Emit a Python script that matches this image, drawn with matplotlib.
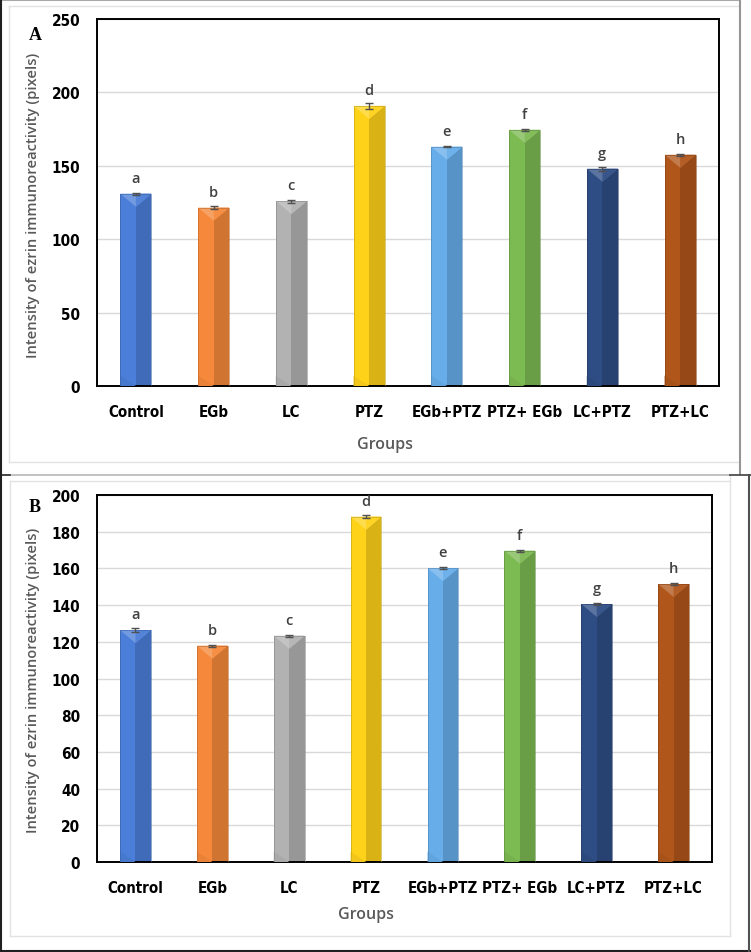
import numpy as np
import matplotlib
matplotlib.use("Agg")
import matplotlib.pyplot as plt
from matplotlib import font_manager
from matplotlib.lines import Line2D
from matplotlib.patches import Rectangle, Polygon
from matplotlib.colors import to_rgb

# data
groups = ["Control", "EGb", "LC", "PTZ", "EGb+PTZ", "PTZ+ EGb", "LC+PTZ", "PTZ+LC"]
letters = ["a", "b", "c", "d", "e", "f", "g", "h"]
colors = ["#4A7ED8", "#F5883A", "#B2B2B2", "#FFD21A", "#66ADEA", "#7CBA52", "#2E4D85", "#B0561A"]

ezrin_a = [131.0, 121.5, 126.0, 190.8, 163.0, 174.5, 148.0, 157.5]
err_a = [0.8, 1.2, 1.0, 2.2, 0.5, 0.5, 1.5, 0.5]
ezrin_b = [126.4, 117.9, 123.3, 188.2, 160.2, 169.6, 140.6, 151.5]
err_b = [1.2, 0.5, 0.6, 0.8, 0.5, 0.6, 0.4, 0.4]

W, H = 751, 953
LABEL_FONT = ["Open Sans", "DejaVu Sans"]


def narrow_bold(size):
    # look for an installed condensed / narrow bold face (closest to Calibri bold)
    for f in font_manager.fontManager.ttflist:
        name = (f.name + " " + str(f.stretch) + " " + f.fname).lower()
        if ("narrow" in name or "condensed" in name) and f.weight in (700, "bold"):
            if "oblique" in f.fname.lower() or "italic" in f.fname.lower():
                continue
            return font_manager.FontProperties(fname=f.fname, size=size)
    return font_manager.FontProperties(family="Roboto", weight="bold", size=size - 1)


XTICK_PROP = narrow_bold(10.8)
YTICK_PROP = narrow_bold(11)


def shade(c, f):
    r = np.array(to_rgb(c))
    if f < 0:
        return tuple(r * (1 + f))
    return tuple(r + (1 - r) * f)


def fig_rect(x0, y0, x1, y1):
    # pixel box (top-left origin) -> figure fraction
    return [x0 / W, 1 - y1 / H, (x1 - x0) / W, (y1 - y0) / H]


def draw_panel(fig, box, values, errors, ymax, step, tag, tag_y, ylab_y, groups_xy):
    ax = fig.add_axes(fig_rect(*box))
    x = np.arange(len(groups))
    bw = 0.4
    ax.set_xlim(-0.5, len(groups) - 0.5)
    ax.set_ylim(0, ymax)

    # pixel -> data conversion for the bevel triangles
    ax_h_px = box[3] - box[1]
    tri_h = 13 * ymax / ax_h_px

    for xi, v, c in zip(x, values, colors):
        ax.bar(xi, v, width=bw, color=c, zorder=2)
        ax.bar(xi, v, width=bw / 2, align="edge", color=shade(c, -0.15), zorder=2)
        top = Polygon([(xi - bw / 2, v), (xi + bw / 2, v), (xi, v - tri_h)],
                      closed=True, facecolor=shade(c, 0.22), edgecolor="none", zorder=3)
        ax.add_patch(top)
        top_r = Polygon([(xi, v), (xi + bw / 2, v), (xi, v - tri_h)],
                        closed=True, facecolor=shade(c, 0.05), edgecolor="none", zorder=3)
        ax.add_patch(top_r)
        bot = Polygon([(xi - bw / 2, 0), (xi, 0), (xi - bw / 2, tri_h * 0.8)],
                      closed=True, facecolor=shade(c, -0.05), edgecolor="none", zorder=3)
        ax.add_patch(bot)
        ax.add_patch(Rectangle((xi - bw / 2, 0), bw, v, fill=False,
                               edgecolor=shade(c, -0.25), linewidth=0.4, zorder=3))

    ax.errorbar(x, values, yerr=errors, fmt="none", ecolor="#505050",
                elinewidth=1.0, capsize=3, capthick=1.0, zorder=4)

    for xi, v, lt in zip(x, values, letters):
        ax.annotate(lt, xy=(xi, v), xytext=(0, 11.5), textcoords="offset points",
                    ha="center", va="center", fontsize=10.5, color="#404040",
                    family=LABEL_FONT, fontweight="semibold", zorder=5)

    ax.set_yticks(np.arange(0, ymax + 1, step))
    ax.yaxis.grid(True, color="#D9D9D9", linewidth=1.0, zorder=0)
    ax.set_axisbelow(True)
    ax.set_xticks(x)
    ax.set_xticklabels(groups)
    ax.tick_params(axis="both", length=0)
    ax.tick_params(axis="y", pad=12)
    ax.tick_params(axis="x", pad=13)
    for lab in ax.get_xticklabels():
        lab.set_fontproperties(XTICK_PROP)
        lab.set_color("black")
    for lab in ax.get_yticklabels():
        lab.set_fontproperties(YTICK_PROP)
        lab.set_color("black")
    for sp in ax.spines.values():
        sp.set_color("black")
        sp.set_linewidth(1.4)

    fig.text(33 / W, 1 - ylab_y / H, "Intensity of ezrin immunoreactivity (pixels)",
             rotation=90, ha="center", va="center", fontsize=10.6, color="#595959",
             family=LABEL_FONT, fontweight="semibold")
    fig.text(groups_xy[0] / W, 1 - groups_xy[1] / H, "Groups", ha="center", va="center",
             fontsize=11.5, color="#595959", family=LABEL_FONT, fontweight="semibold")
    fig.text(35 / W, 1 - tag_y / H, tag, ha="center", va="center", fontsize=13,
             fontweight="bold", family=["Liberation Serif", "DejaVu Serif"])
    return ax


fig = plt.figure(figsize=(W / 100, H / 100), dpi=100)

# frame lines in pixel coordinates
def fig_line(x0, y0, x1, y1, color, lw):
    fig.add_artist(Line2D([x0 / W, x1 / W], [1 - y0 / H, 1 - y1 / H],
                          color=color, linewidth=lw, transform=fig.transFigure))

fig_line(9, 7, 738, 7, "#E2E2E2", 1.0)
fig_line(9, 7, 9, 463, "#E2E2E2", 1.0)
fig_line(9, 463, 738, 463, "#E2E2E2", 1.0)
fig_line(10, 482, 730, 482, "#E2E2E2", 1.0)
fig_line(10, 482, 10, 937, "#E2E2E2", 1.0)
fig_line(10, 937, 730, 937, "#E2E2E2", 1.0)
fig_line(730, 476, 730, 937, "#E2E2E2", 1.0)
fig_line(0, 1, 740, 1, "#A8A8A8", 1.5)
fig_line(739.5, 0, 739.5, 475, "#959595", 1.5)
fig_line(0, 475.5, 730, 475.5, "#B8B8B8", 1.2)
fig_line(0, 475.5, 10, 475.5, "#303030", 1.2)
fig_line(730, 476, 751, 476, "#404040", 1.2)
fig_line(1, 0, 1, 953, "#202020", 1.5)
fig_line(0, 952, 751, 952, "#202020", 1.5)
fig_line(749, 476, 749, 953, "#505050", 1.5)

draw_panel(fig, (97, 20, 719, 387), ezrin_a, err_a, 250, 50, "A", 35, 205, (385, 445))
draw_panel(fig, (97, 496, 712, 863), ezrin_b, err_b, 200, 20, "B", 508, 680, (366, 915))

fig.savefig("out.png", dpi=100)
